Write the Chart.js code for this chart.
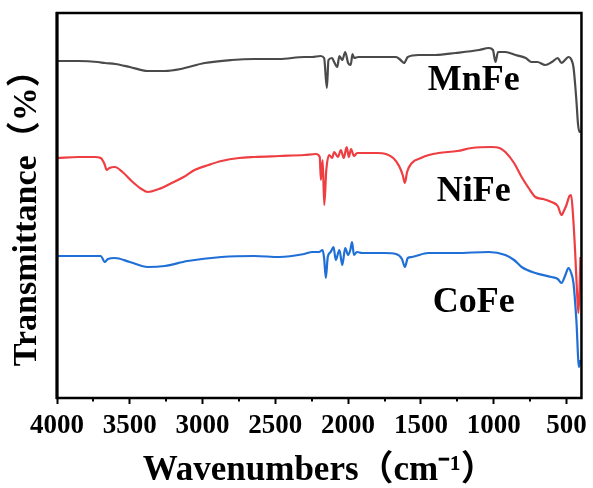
<!DOCTYPE html>
<html>
<head>
<meta charset="utf-8">
<script src="https://cdn.jsdelivr.net/npm/chart.js@4/dist/chart.umd.min.js"></script>
<style>
  html, body { margin: 0; padding: 0; background: #fff; }
  #wrap { width: 593px; height: 488px; }
</style>
</head>
<body>
<div id="wrap"><canvas id="c" width="593" height="488"></canvas></div>
<script>
// ---- Data (wavenumber in cm^-1, transmittance in arbitrary offset units) ----
const mnfeWave = [4000,3850,3720,3671,3600,3500,3377,3260,3150,2986,2800,2644,2473,2301,2247,2190,2165,2146,2135,2110,2096,2075,2060,2040,2020,2000,1982,1970,1959,1930,1850,1750,1671,1640,1616,1590,1514,1400,1262,1100,1034,1005,988,970,920,850,780,740,700,646,600,560,534,510,486,465,452,440,432,420,410,400];
const mnfeT    = [337,337,336,335,334,331,327,327,329,335,338,339,339,341,341,342,340,310,338,340,336,331,342,338,346,335,333,344,340,341,341,341,341,338,335,341,343,343,345,348,350,348,336,346,346,343,340,336,336,333,336,340,335,338,341,338,331,313,298,273,266,267];

const nifeWave = [4000,3850,3740,3700,3671,3660,3640,3603,3550,3480,3420,3377,3300,3212,3130,3055,2960,2870,2750,2644,2473,2301,2221,2195,2187,2175,2164,2150,2130,2110,2096,2070,2050,2030,2010,1995,1980,1960,1938,1904,1800,1740,1690,1650,1625,1610,1595,1562,1500,1445,1377,1250,1151,1014,960,920,860,808,760,714,660,603,560,534,515,500,480,468,455,441,428,418,410,404];
const nifeT    = [240,241,241,240,233,228,230,231,226,216,209,206,209,215,221,228,233,237,240,241,242,243,244,241,218,238,193,228,243,240,246,241,248,240,251,241,249,242,245,245,245,244,240,232,223,215,226,235,240,243,245,247,250,251,250,246,235,221,210,201,199,196,192,183,188,193,202,203,183,148,108,85,108,141];

const cofeWave = [4000,3850,3700,3671,3650,3603,3500,3377,3260,3103,2870,2644,2473,2301,2247,2200,2175,2165,2153,2140,2120,2100,2085,2060,2040,2020,2000,1985,1973,1960,1940,1904,1750,1671,1630,1610,1590,1562,1450,1262,1034,920,860,808,714,603,560,534,510,486,470,452,432,414,405];
const cofeT    = [142,142,142,136,139,140,136,131,132,137,141,142,141,144,146,146,148,140,120,141,146,151,138,148,133,150,143,148,156,143,146,145,145,144,139,131,140,141,145,145,146,143,138,131,125,121,119,115,122,130,126,115,78,31,38];

const seriesNames  = ['MnFe', 'NiFe', 'CoFe'];
const seriesColors = ['#4a4a4a', '#ee3e42', '#1f6fd6'];

const xTickValues  = [4000, 3500, 3000, 2500, 2000, 1500, 1000, 500];
const xMinorTicks  = [3750, 3250, 2750, 2250, 1750, 1250, 750];

const labelWave  = [1137, 1137, 1137];
const labelValue = [317, 206, 95];

// ---- Chart ----
const serif = "'Liberation Serif', 'Times New Roman', 'Noto Sans CJK SC', serif";
function pts(w, t) { return w.map((x, i) => ({ x: x, y: t[i] })); }
const waves = [mnfeWave, nifeWave, cofeWave];
const vals  = [mnfeT, nifeT, cofeT];

const framePlugin = {
  id: 'frame',
  afterDraw(chart) {
    const { ctx, chartArea: a, scales } = chart;
    const xs = scales.x, ys = scales.y;
    ctx.save();
    // minor ticks
    ctx.strokeStyle = '#000';
    ctx.lineWidth = 2;
    xMinorTicks.forEach(v => {
      const px = Math.round(xs.getPixelForValue(v));
      ctx.beginPath();
      ctx.moveTo(px, a.bottom);
      ctx.lineTo(px, a.bottom + 3.5);
      ctx.stroke();
    });
    // frame
    ctx.lineWidth = 2.5;
    ctx.strokeRect(a.left, a.top, a.right - a.left, a.bottom - a.top);
    ctx.lineWidth = 3;
    ctx.beginPath();
    ctx.moveTo(a.left, a.top - 1);
    ctx.lineTo(a.left, a.bottom + 1);
    ctx.stroke();
    // series labels
    ctx.fillStyle = '#000';
    ctx.font = 'bold 36px ' + serif;
    ctx.textAlign = 'center';
    ctx.textBaseline = 'middle';
    seriesNames.forEach((n, i) => {
      ctx.fillText(n, xs.getPixelForValue(labelWave[i]), ys.getPixelForValue(labelValue[i]));
    });
    ctx.restore();
  }
};

new Chart(document.getElementById('c'), {
  type: 'line',
  data: {
    datasets: seriesNames.map((n, i) => ({
      label: n,
      data: pts(waves[i], vals[i]),
      borderColor: seriesColors[i],
      backgroundColor: seriesColors[i],
      borderWidth: 2.2,
      pointRadius: 0,
      cubicInterpolationMode: 'monotone',
      fill: false
    }))
  },
  options: {
    responsive: false,
    animation: false,
    events: [],
    layout: { padding: { left: 0, top: 13, right: 10, bottom: 0 } },
    plugins: { legend: { display: false }, tooltip: { enabled: false } },
    scales: {
      x: {
        type: 'linear',
        reverse: true,
        min: 397,
        max: 4000,
        afterBuildTicks(scale) { scale.ticks = xTickValues.map(v => ({ value: v })); },
        afterFit(scale) { scale.height = 90; },
        border: { display: false },
        grid: { display: true, drawOnChartArea: false, drawTicks: true, tickLength: 6, tickWidth: 2, tickColor: '#000' },
        ticks: {
          color: '#000',
          padding: 6,
          maxRotation: 0,
          autoSkip: false,
          callback: v => String(v),
          font: { family: serif, size: 27, weight: 'bold' }
        },
        title: {
          display: true,
          text: 'Wavenumbers（cm⁻¹）',
          color: '#000',
          padding: { top: 0, bottom: 0 },
          font: { family: serif, size: 35, weight: 'bold', lineHeight: 1 }
        }
      },
      y: {
        min: 0,
        max: 385,
        afterFit(scale) { scale.width = 57; },
        border: { display: false },
        grid: { display: false },
        ticks: { display: false },
        title: {
          display: true,
          text: 'Transmittance（%） ',
          color: '#000',
          padding: { top: 10, bottom: 0 },
          font: { family: serif, size: 34, weight: 'bold', lineHeight: 1 }
        }
      }
    }
  },
  plugins: [framePlugin]
});
</script>
</body>
</html>
